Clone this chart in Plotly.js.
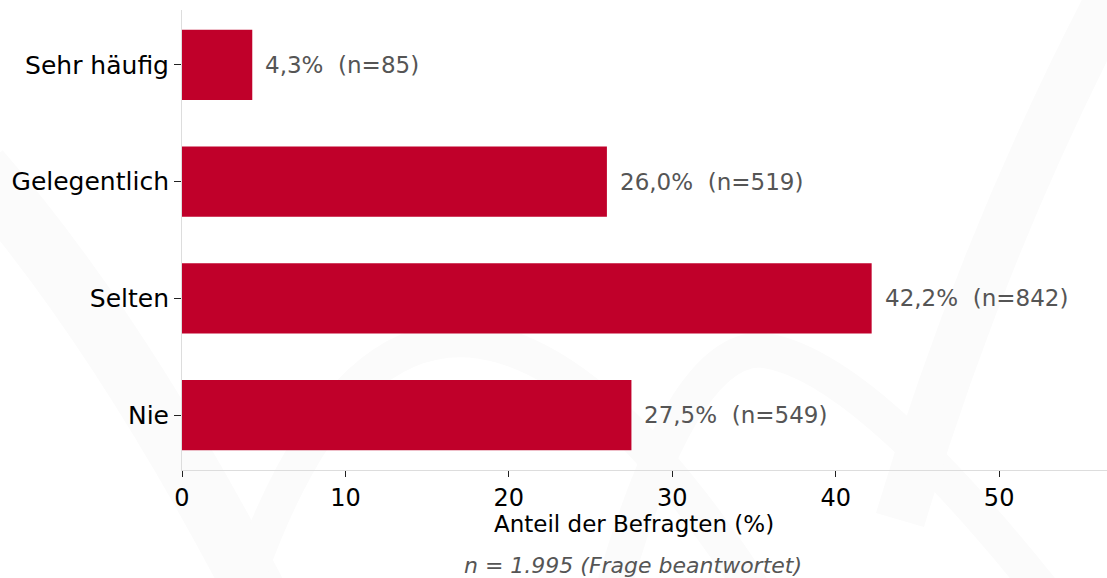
<!DOCTYPE html>
<html><head><meta charset="utf-8">
<script src="https://cdn.plot.ly/plotly-3.0.1.min.js"></script>
<style>html,body{margin:0;padding:0;background:#fff;}#chart{width:1107px;height:578px;}</style>
</head><body><div id="chart"></div>
<script>
const categories = ['Sehr häufig', 'Gelegentlich', 'Selten', 'Nie'];
const percents = [4.3, 26.0, 42.2, 27.5];
const counts = [85, 519, 842, 549];
const xTicks = [0, 10, 20, 30, 40, 50];
const xTitle = 'Anteil der Befragten (%)';
const footnote = 'n = 1.995 (Frage beantwortet)';

const fmt = v => v.toFixed(1).replace('.', ',');
const labels = percents.map((p, i) => fmt(p) + '%  (n=' + counts[i] + ')');

const font = 'DejaVu Sans, sans-serif';
const W = 1107, H = 578, L = 182, R = 0, T = 10, B = 108;
const pw = W - L - R, ph = H - T - B;
// helper: pixel -> paper coords (for decorative watermark only)
const P = (x, y) => ((x - L) / pw).toFixed(4) + ',' + (1 - (y - T) / ph).toFixed(4);

const trace = {
  type: 'bar', orientation: 'h',
  x: percents, y: categories,
  width: 0.6,
  marker: {color: '#C0002A', line: {width: 0}},
  hoverinfo: 'none'
};
const annotations = categories.map((c, i) => ({
  x: percents[i], y: c, xref: 'x', yref: 'y',
  text: labels[i], showarrow: false, xanchor: 'left', xshift: 11,
  font: {family: font, size: 23, color: '#555555'}
}));
annotations.push({
  xref: 'paper', yref: 'paper',
  x: (634 - L) / pw, y: 0, yanchor: 'middle', yshift: -(524 - (H - B)),
  showarrow: false,
  text: xTitle,
  font: {family: font, size: 23, color: '#000'}
});
annotations.push({
  xref: 'paper', yref: 'paper',
  x: (633 - L) / pw, y: 0, yanchor: 'middle', yshift: -(565 - (H - B)),
  showarrow: false,
  text: '<i>' + footnote + '</i>',
  font: {family: font, size: 22, color: '#555555'}
});

const wm = '#fbfbfb';
const shapes = [
  {type: 'path', xref: 'paper', yref: 'paper', layer: 'below',
   path: 'M' + P(-20, 170) + ' Q' + P(120, 330) + ' ' + P(260, 600),
   line: {color: wm, width: 60}},
  {type: 'path', xref: 'paper', yref: 'paper', layer: 'below',
   path: 'M' + P(240, 600) + ' Q' + P(330, 330) + ' ' + P(470, 340) + ' Q' + P(600, 350) + ' ' + P(760, 600),
   line: {color: wm, width: 35}},
  {type: 'path', xref: 'paper', yref: 'paper', layer: 'below',
   path: 'M' + P(610, 600) + ' Q' + P(680, 350) + ' ' + P(760, 350) + ' Q' + P(860, 360) + ' ' + P(1050, 600),
   line: {color: wm, width: 35}},
  {type: 'path', xref: 'paper', yref: 'paper', layer: 'below',
   path: 'M' + P(900, 520) + ' Q' + P(980, 250) + ' ' + P(1110, 0),
   line: {color: wm, width: 50}}
];

const layout = {
  width: W, height: H,
  margin: {l: L, r: R, t: T, b: B},
  paper_bgcolor: '#ffffff', plot_bgcolor: 'rgba(0,0,0,0)',
  showlegend: false,
  font: {family: font, color: '#000'},
  xaxis: {
    range: [0, 56.6], tickvals: xTicks, ticktext: xTicks.map(String),
    showgrid: false, zeroline: false,
    showline: true, linecolor: '#dddddd', linewidth: 1,
    ticks: 'outside', ticklen: 6, tickwidth: 1, tickcolor: '#222',
    tickfont: {family: font, size: 24, color: '#000'}
  },
  yaxis: {
    type: 'category',
    categoryorder: 'array', categoryarray: categories.slice().reverse(),
    range: [-0.47, 3.47],
    showgrid: false, zeroline: false,
    showline: true, linecolor: '#dddddd', linewidth: 1,
    ticks: 'outside', ticklen: 7, tickwidth: 1, tickcolor: '#222',
    ticklabelstandoff: 0,
    tickfont: {family: font, size: 25, color: '#000'}
  },
  shapes: shapes,
  annotations: annotations
};
Plotly.newPlot('chart', [trace], layout, {staticPlot: true, displayModeBar: false});
</script></body></html>
